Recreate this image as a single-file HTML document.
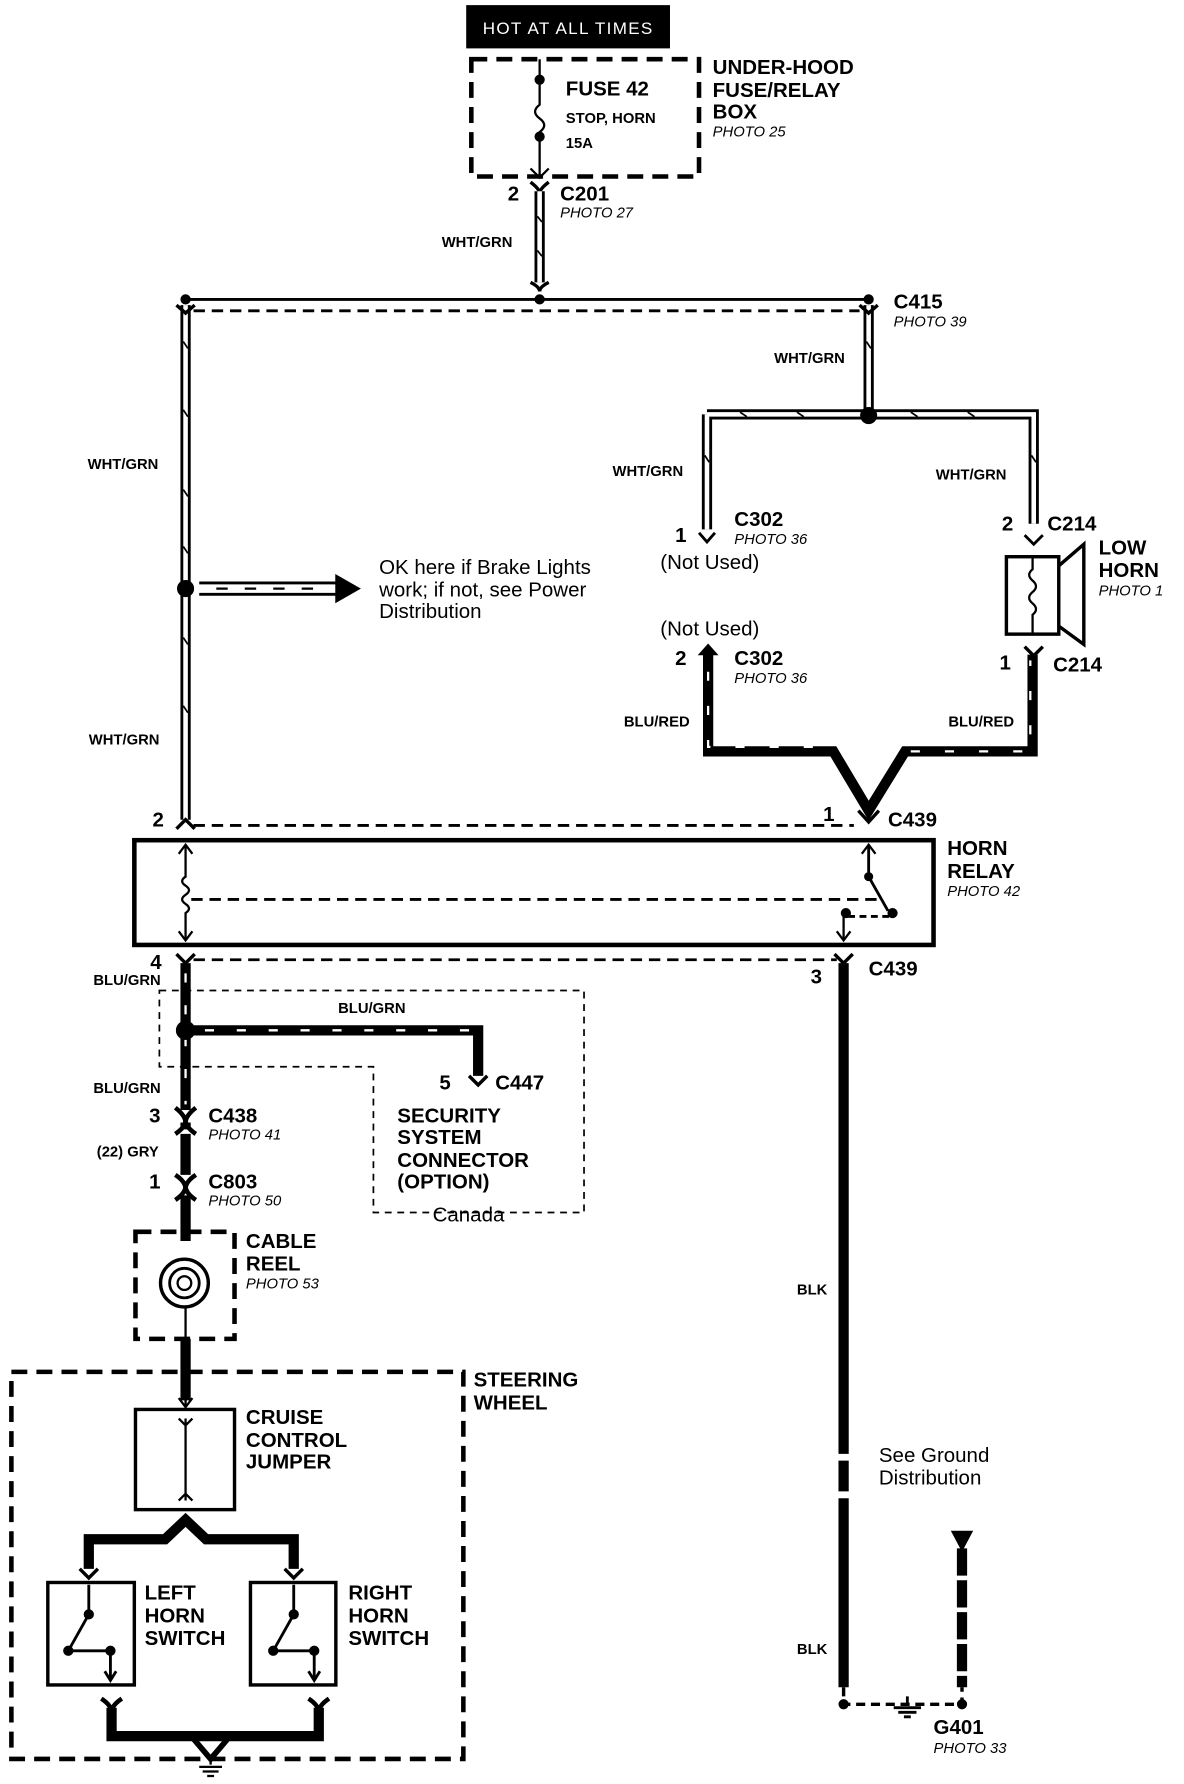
<!DOCTYPE html>
<html><head><meta charset="utf-8"><style>
html,body{margin:0;padding:0;background:#fff;}
svg{display:block;}
text{font-family:"Liberation Sans",sans-serif;fill:#000;}
.b{font-weight:bold;font-size:18px;}
.s{font-weight:bold;font-size:13px;}
.p{font-style:italic;font-size:13px;}
.r{font-size:18px;}
</style></head><body>
<svg width="1184" height="1784" viewBox="0 0 1040 1567" preserveAspectRatio="none" xmlns="http://www.w3.org/2000/svg">
<g fill="none" stroke="#000">
<!-- top -->
<rect x="410" y="5" width="178" height="37" fill="#000"/>
<rect x="414" y="52" width="200" height="103" stroke-width="4" stroke-dasharray="14 8"/>
<path d="M474 52 V92 q-8 6 0 12 q8 6 0 12 V155" stroke-width="2"/>
<circle cx="474" cy="70" r="4" fill="#000"/><circle cx="474" cy="120" r="4" fill="#000"/>
<path d="M466 148 L474 156 L482 148" stroke-width="2"/>
<path d="M466 160 Q474 166 474 170 Q474 166 482 160" stroke-width="3"/>
<!-- hollow wires -->
<g stroke-width="9"><path d="M474 168 V248"/><path d="M163 268 V720"/><path d="M763 268 V365 M621 364 H908 V460 M621 364 V465"/></g>
<g stroke="#fff" stroke-width="4"><path d="M474 168 V248"/><path d="M163 268 V720"/><path d="M763 268 V362 M621 364 H908 V460 M621 364 V465"/></g>
<g stroke-width="1.5"><path d="M472 190 l4 5 M472 220 l4 5 M161 300 l4 6 M161 360 l4 6 M161 430 l4 6 M161 480 l4 6 M161 560 l4 6 M161 620 l4 6 M761 300 l4 6 M650 362 l6 4 M700 362 l6 4 M800 362 l6 4 M850 362 l6 4 M619 400 l4 6 M906 400 l4 6"/></g>
<path d="M466 248 Q474 252 474 256 Q474 252 482 248" stroke-width="3"/>
<path d="M163 263 H763" stroke-width="2.5"/>
<path d="M170 273 H755" stroke-width="2.5" stroke-dasharray="10 6"/>
<path d="M155 268 L163 275 L171 268 M755 268 L763 275 L771 268" stroke-width="3"/>
<circle cx="163" cy="263" r="4" fill="#000"/><circle cx="474" cy="263" r="4" fill="#000"/><circle cx="763" cy="263" r="4" fill="#000"/>
<circle cx="763" cy="365" r="7" fill="#000"/>
<circle cx="163" cy="517" r="7" fill="#000"/>
<!-- brake arrow -->
<path d="M175 512 H295 M175 522 H295" stroke-width="2.5"/>
<path d="M190 517 h10 M215 517 h10 M240 517 h10 M265 517 h10" stroke-width="2"/>
<path d="M295 505 L316 517 L295 529 Z" fill="#000"/>
<path d="M614 468 L621 476 L628 468" stroke-width="2.5"/>
<!-- horn -->
<path d="M900 470 L908 478 L916 470" stroke-width="2.5"/>
<rect x="884" y="489" width="46" height="68" stroke-width="3"/>
<path d="M930 497 L952 478 V566 L930 550" stroke-width="3"/>
<path d="M907 489 V500 q-6 5 0 10 q6 5 0 10 q-6 5 0 10 q6 5 0 10 V557" stroke-width="2"/>
<path d="M900 568 L908 576 L916 568" stroke-width="3"/>
<!-- BLU/RED -->
<g stroke-width="9" stroke-linejoin="miter"><path d="M622 575 V660 H732 L763 712 L795 660 H907 V575"/></g>
<g stroke="#fff" stroke-width="2" stroke-dasharray="8 22"><path d="M622 590 V656 H730 M800 660 H905 V580"/></g>
<path d="M614 575 L622 566 L630 575 Z" fill="#000"/>
<path d="M754 712 L763 722 L772 712" stroke-width="3"/>
<path d="M170 725 H750" stroke-width="2.5" stroke-dasharray="10 6"/>
<path d="M155 728 L163 720 L171 728" stroke-width="3"/>
<!-- relay -->
<rect x="118" y="738" width="702" height="92" stroke-width="4"/>
<path d="M163 742 V770 q-6 4 0 8 q6 4 0 8 q-6 4 0 8 q6 4 0 8 V826" stroke-width="2"/>
<path d="M157 750 L163 742 L169 750 M157 818 L163 826 L169 818" stroke-width="2"/>
<path d="M168 790 H770" stroke-width="2.5" stroke-dasharray="10 6"/>
<path d="M763 742 V770 L780 800" stroke-width="2.5"/>
<path d="M757 750 L763 742 L769 750" stroke-width="2"/>
<circle cx="763" cy="770" r="3.5" fill="#000"/><circle cx="784" cy="802" r="4" fill="#000"/><circle cx="743" cy="802" r="4" fill="#000"/>
<path d="M745 805 H782" stroke-width="2.5" stroke-dasharray="6 4"/>
<path d="M741 802 V826 M735 818 L741 826 L747 818" stroke-width="2"/>
<path d="M170 843 H735" stroke-width="2.5" stroke-dasharray="10 6"/>
<path d="M155 838 L163 846 L171 838 M733 838 L741 846 L749 838" stroke-width="3"/>
<!-- BLK -->
<path d="M741 846 V1277 M741 1283 V1310 M741 1316 V1482" stroke-width="9"/>
<path d="M845 1360 V1482" stroke-width="9" stroke-dasharray="24 4"/>
<path d="M836 1345 L854 1345 L845 1362 Z" fill="#000"/>
<path d="M741 1482 V1497 H845 V1482" stroke-width="3" stroke-dasharray="8 5"/>
<circle cx="741" cy="1497" r="4" fill="#000"/><circle cx="845" cy="1497" r="4" fill="#000"/>
<path d="M797 1490 V1497 M785 1500 H809 M789 1504 H805 M794 1508 H800" stroke-width="2.5"/>
<!-- BLU/GRN -->
<path d="M163 846 V975 M163 905 H420 V945" stroke-width="9"/>
<g stroke="#fff" stroke-width="2" stroke-dasharray="8 20"><path d="M163 855 V970 M180 905 H415"/></g>
<circle cx="163" cy="905" r="8" fill="#000"/>
<path d="M412 945 L420 953 L428 945" stroke-width="3"/>
<path d="M140 870 H513 V1065 H328 V937 H140 Z" stroke-width="1.5" stroke-dasharray="6 5"/>
<path d="M154 973 Q163 980 163 986 Q163 980 172 973" stroke-width="4"/>
<path d="M163 986 V992" stroke-width="9"/>
<path d="M154 996 Q163 990 163 984" stroke-width="4"/><path d="M172 996 Q163 990 163 984" stroke-width="4"/>
<path d="M163 996 V1032" stroke-width="9"/>
<path d="M154 1032 Q163 1038 163 1044 Q163 1038 172 1032" stroke-width="4"/>
<path d="M154 1054 Q163 1048 163 1042 M172 1054 Q163 1048 163 1042" stroke-width="4"/>
<path d="M163 1050 V1090" stroke-width="9"/>
<!-- cable reel -->
<rect x="119" y="1082" width="87" height="94" stroke-width="4" stroke-dasharray="14 8"/>
<circle cx="162" cy="1127" r="21" stroke-width="3"/>
<circle cx="162" cy="1127" r="13" stroke-width="2.5"/>
<circle cx="162" cy="1127" r="6" stroke-width="2"/>
<path d="M163 1176 V1230" stroke-width="9"/>
<path d="M163 1148 V1176" stroke-width="2"/>
<path d="M163 1205 V1236 M157 1228 L163 1236 L169 1228" stroke-width="2"/>
<!-- steering -->
<rect x="10" y="1205" width="397" height="340" stroke-width="4" stroke-dasharray="14 8"/>
<rect x="119" y="1238" width="87" height="88" stroke-width="3"/>
<path d="M163 1246 V1318 M157 1246 L163 1252 L169 1246 M157 1318 L163 1312 L169 1318" stroke-width="2"/>
<path d="M78 1378 V1352 H145 L163 1335 L181 1352 H258 V1378" stroke-width="9"/>
<path d="M70 1378 L78 1386 L86 1378 M250 1378 L258 1386 L266 1378" stroke-width="3"/>
<rect x="42" y="1390" width="76" height="90" stroke-width="3"/>
<rect x="220" y="1390" width="75" height="90" stroke-width="3"/>
<g stroke-width="2.5"><path d="M78 1392 V1418 L60 1450 M60 1450 H97 V1475 M92 1468 L97 1476 L102 1468"/><path d="M258 1392 V1418 L240 1450 M240 1450 H276 V1475 M271 1468 L276 1476 L281 1468"/></g>
<g fill="#000"><circle cx="78" cy="1418" r="4"/><circle cx="60" cy="1450" r="4"/><circle cx="97" cy="1450" r="4"/><circle cx="258" cy="1418" r="4"/><circle cx="240" cy="1450" r="4"/><circle cx="276" cy="1450" r="4"/></g>
<path d="M89 1492 Q98 1498 98 1504 Q98 1498 107 1492 M271 1492 Q280 1498 280 1504 Q280 1498 289 1492" stroke-width="4"/>
<path d="M98 1500 V1525 H280 V1500" stroke-width="9"/>
<path d="M168 1525 L185 1545 L202 1525" stroke-width="5"/>
<path d="M185 1545 V1550 M175 1552 H195 M178 1556 H192 M182 1560 H188" stroke-width="2"/>
</g>
<!-- text -->
<text x="499" y="30" text-anchor="middle" style="fill:#fff;font-family:'Liberation Sans',sans-serif;font-size:15px;letter-spacing:1px" textLength="150">HOT AT ALL TIMES</text>
<text x="497" y="84" class="b">FUSE 42</text>
<text x="497" y="108" class="s">STOP, HORN</text>
<text x="497" y="130" class="s">15A</text>
<text x="626" y="65" class="b">UNDER-HOOD</text><text x="626" y="85" class="b">FUSE/RELAY</text><text x="626" y="104" class="b">BOX</text><text x="626" y="120" class="p">PHOTO 25</text>
<text x="446" y="176" class="b">2</text><text x="492" y="176" class="b">C201</text><text x="492" y="191" class="p">PHOTO 27</text>
<text x="388" y="217" class="s">WHT/GRN</text>
<text x="785" y="271" class="b">C415</text><text x="785" y="287" class="p">PHOTO 39</text>
<text x="680" y="319" class="s">WHT/GRN</text>
<text x="77" y="412" class="s">WHT/GRN</text>
<text x="538" y="418" class="s">WHT/GRN</text>
<text x="822" y="421" class="s">WHT/GRN</text>
<text x="645" y="462" class="b">C302</text><text x="645" y="478" class="p">PHOTO 36</text><text x="593" y="476" class="b">1</text>
<text x="580" y="500" class="r">(Not Used)</text>
<text x="880" y="466" class="b">2</text><text x="920" y="466" class="b">C214</text>
<text x="965" y="487" class="b">LOW</text><text x="965" y="507" class="b">HORN</text><text x="965" y="523" class="p">PHOTO 1</text>
<text x="333" y="504" class="r">OK here if Brake Lights</text><text x="333" y="524" class="r">work; if not, see Power</text><text x="333" y="543" class="r">Distribution</text>
<text x="580" y="558" class="r">(Not Used)</text>
<text x="593" y="584" class="b">2</text><text x="645" y="584" class="b">C302</text><text x="645" y="600" class="p">PHOTO 36</text>
<text x="878" y="588" class="b">1</text><text x="925" y="590" class="b">C214</text>
<text x="548" y="638" class="s">BLU/RED</text><text x="833" y="638" class="s">BLU/RED</text>
<text x="78" y="654" class="s">WHT/GRN</text>
<text x="134" y="726" class="b">2</text><text x="723" y="721" class="b">1</text><text x="780" y="726" class="b">C439</text>
<text x="832" y="751" class="b">HORN</text><text x="832" y="771" class="b">RELAY</text><text x="832" y="787" class="p">PHOTO 42</text>
<text x="132" y="851" class="b">4</text><text x="82" y="865" class="s">BLU/GRN</text>
<text x="712" y="864" class="b">3</text><text x="763" y="857" class="b">C439</text>
<text x="297" y="890" class="s">BLU/GRN</text>
<text x="386" y="957" class="b">5</text><text x="435" y="957" class="b">C447</text>
<text x="82" y="960" class="s">BLU/GRN</text>
<text x="349" y="986" class="b">SECURITY</text><text x="349" y="1005" class="b">SYSTEM</text><text x="349" y="1025" class="b">CONNECTOR</text><text x="349" y="1044" class="b">(OPTION)</text>
<text x="380" y="1073" class="r">Canada</text>
<text x="131" y="986" class="b">3</text><text x="183" y="986" class="b">C438</text><text x="183" y="1001" class="p">PHOTO 41</text>
<text x="85" y="1016" class="s">(22) GRY</text>
<text x="131" y="1044" class="b">1</text><text x="183" y="1044" class="b">C803</text><text x="183" y="1059" class="p">PHOTO 50</text>
<text x="216" y="1096" class="b">CABLE</text><text x="216" y="1116" class="b">REEL</text><text x="216" y="1132" class="p">PHOTO 53</text>
<text x="700" y="1137" class="s">BLK</text>
<text x="416" y="1218" class="b">STEERING</text><text x="416" y="1238" class="b">WHEEL</text>
<text x="216" y="1251" class="b">CRUISE</text><text x="216" y="1271" class="b">CONTROL</text><text x="216" y="1290" class="b">JUMPER</text>
<text x="772" y="1284" class="r">See Ground</text><text x="772" y="1304" class="r">Distribution</text>
<text x="127" y="1405" class="b">LEFT</text><text x="127" y="1425" class="b">HORN</text><text x="127" y="1445" class="b">SWITCH</text>
<text x="306" y="1405" class="b">RIGHT</text><text x="306" y="1425" class="b">HORN</text><text x="306" y="1445" class="b">SWITCH</text>
<text x="700" y="1453" class="s">BLK</text>
<text x="820" y="1523" class="b">G401</text><text x="820" y="1540" class="p">PHOTO 33</text>
</svg>
</body></html>
